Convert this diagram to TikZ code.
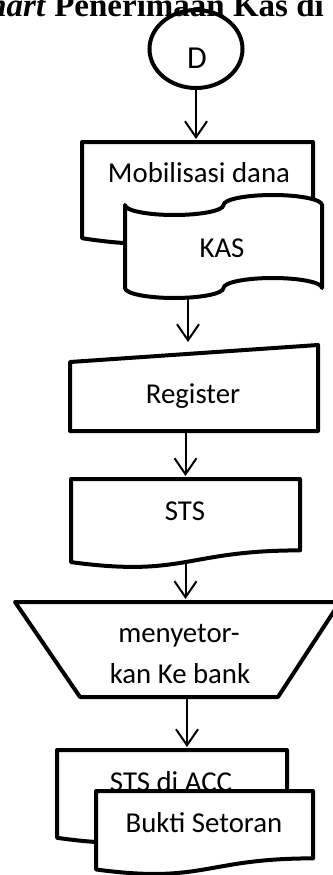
\documentclass[tikz,border=0pt]{standalone}
\usepackage{fontspec}
\setmainfont{Carlito}
\newfontfamily\titlefont{Liberation Serif}
\usetikzlibrary{shapes.geometric,arrows.meta,calc}

% document symbol drawn over an empty frame node
\newcommand\docshape[1]{%
\draw[outline] (#1.north west) -- (#1.north east)
  -- ($(#1.north east)!0.802!(#1.south east)$)
  .. controls ($(#1.north)!0.802!(#1.south)$) and ($(#1.north)!1.108!(#1.south)$)
  .. ($(#1.north west)!0.934!(#1.south west)$) -- cycle;
\coordinate (#1-b) at ($(#1.north)!0.933!(#1.south)$);}

\tikzset{
  outline/.style={line width=4pt,line join=round,fill=white},
  frame/.style={inner sep=0pt,outer sep=0pt},
  arr/.style={line width=2pt,shorten >=3pt,
    -{Straight Barb[length=16pt,width=22pt,line width=2pt]}},
  lbl/.style={inner sep=0pt,anchor=base,font=\fontsize{28.8}{40}\selectfont},
}

\begin{document}
\begin{tikzpicture}[x=1pt,y=-1pt]
\useasboundingbox (0,0) rectangle (332,875);

\node[inner sep=0pt,anchor=base east,font=\titlefont\bfseries\fontsize{33pt}{38pt}\selectfont] (title) at (324,17) {\textit{Flowchart} Penerimaan Kas di};

% connector D
\node[ellipse,draw,line width=4pt,minimum width=93pt,minimum height=78pt] (d) at (196,49) {};
\node[lbl,font=\fontsize{32}{40}\selectfont] (d-t) at (197,69) {D};

% mobilisasi dana + KAS
\node[frame,minimum width=231pt,minimum height=103pt] (mob) at (197.5,193.5) {};
\draw[arr] (d.south) -- (d.south |- mob.north);
\docshape{mob}
\node[lbl] (mob-t) at (199,182) {Mobilisasi dana};

\node[frame,minimum width=197pt,minimum height=103pt] (kas) at (223.5,246.5) {};
\draw[outline] (125,205) arc[start angle=180,end angle=360,x radius=49.25pt,y radius=10pt]
  arc[start angle=180,end angle=0,x radius=49.25pt,y radius=10pt]
  -- (322,288) arc[start angle=0,end angle=180,x radius=49.25pt,y radius=10pt]
  arc[start angle=0,end angle=-180,x radius=49.25pt,y radius=10pt] -- cycle;
\node[lbl] (kas-t) at (222,257) {KAS};

% register
\node[frame,minimum width=248pt,minimum height=86pt] (reg) at (194,388) {};
\draw[arr] ([xshift=-35.5pt]kas.south) -- ([xshift=-6pt]reg.north);
\draw[outline] (reg.south west) -- ([yshift=-17pt]reg.north west) -- (reg.north east)
  -- (reg.south east) -- cycle;
\node[lbl] (reg-t) at (193,403) {Register};

% STS
\node[frame,minimum width=229pt,minimum height=89pt] (sts) at (185.5,523.5) {};
\draw[arr] (sts.north |- reg.south) -- (sts.north);
\docshape{sts}
\node[lbl] (sts-t) at (185,520) {STS};

% manual operation
\node[frame,minimum width=325pt,minimum height=95pt] (op) at (177.5,649.5) {};
\draw[arr] (sts-b) -- (sts-b |- op.north);
\draw[outline] (op.north west) -- (op.north east) -- ([xshift=-62pt]op.south east)
  -- ([xshift=65pt]op.south west) -- cycle;
\node[lbl] (op-t1) at (179,642) {menyetor-};
\node[lbl] (op-t2) at (180,683) {kan Ke bank};

% STS di ACC + bukti setoran
\node[frame,minimum width=230pt,minimum height=94pt] (acc) at (172,797) {};
\draw[arr] ([xshift=9.5pt]op.south) -- ([xshift=15pt]acc.north);
\docshape{acc}
\node[lbl] (acc-t) at (171,791) {STS di ACC};

\node[frame,minimum width=217pt,minimum height=84pt] (bukti) at (204.5,833) {};
\docshape{bukti}
\node[lbl] (bukti-t) at (204,832) {Bukti Setoran};
\end{tikzpicture}
\end{document}
